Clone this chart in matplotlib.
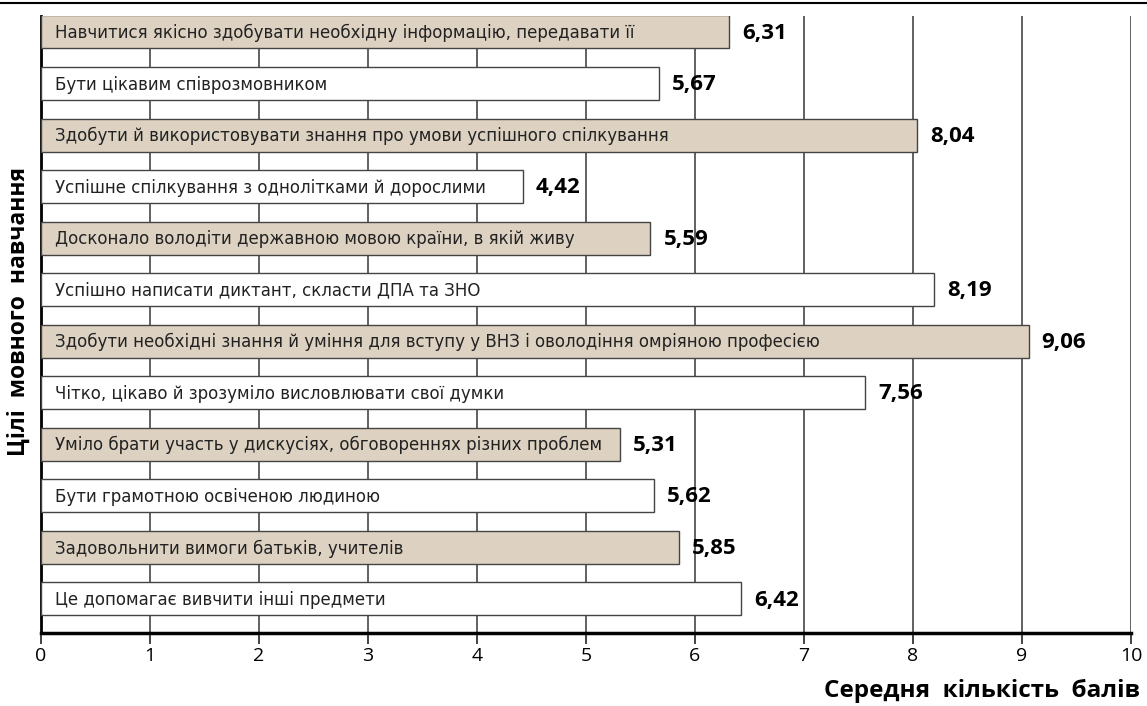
import numpy as np
import matplotlib.pyplot as plt
from matplotlib.lines import Line2D

# Дані
goals = [
    "Навчитися якісно здобувати необхідну інформацію, передавати її",
    "Бути цікавим співрозмовником",
    "Здобути й використовувати знання про умови успішного спілкування",
    "Успішне спілкування з однолітками й дорослими",
    "Досконало володіти державною мовою країни, в якій живу",
    "Успішно написати диктант, скласти ДПА та ЗНО",
    "Здобути необхідні знання й уміння для вступу у ВНЗ і оволодіння омріяною професією",
    "Чітко, цікаво й зрозуміло висловлювати свої думки",
    "Уміло брати участь у дискусіях, обговореннях різних проблем",
    "Бути грамотною освіченою людиною",
    "Задовольнити вимоги батьків, учителів",
    "Це допомагає вивчити інші предмети",
]
scores = [6.31, 5.67, 8.04, 4.42, 5.59, 8.19, 9.06, 7.56, 5.31, 5.62, 5.85, 6.42]
score_labels = ["6,31", "5,67", "8,04", "4,42", "5,59", "8,19", "9,06", "7,56", "5,31", "5,62", "5,85", "6,42"]
x_ticks = list(range(0, 11))

tan = "#ddd2c2"

fig = plt.figure(figsize=(11.47, 7.06), dpi=100)
ax = fig.add_axes([41 / 1147, 1 - 633 / 706, 1090 / 1147, 617 / 706])

y = np.arange(len(goals))
colors = [tan if i % 2 == 0 else "white" for i in y]
ax.barh(y, scores, height=0.64, color=colors, edgecolor="#444444", linewidth=1.0, zorder=3)

for i, (s, g, lab) in enumerate(zip(scores, goals, score_labels)):
    ax.text(0.13, i + 0.02, g, va="center", ha="left", fontsize=12,
            family="DejaVu Sans", color="#222222", zorder=4)
    ax.text(s + 0.12, i + 0.02, lab, va="center", ha="left", fontsize=16,
            family="Open Sans", fontweight="bold", color="black", zorder=4)

# Сітка
for xv in x_ticks[1:]:
    ax.axvline(xv, color="#555555", linewidth=1.3, zorder=1)

ax.set_xlim(0, 10)
ax.set_ylim(len(goals) - 1 + 0.66, -0.31)
ax.set_xticks(x_ticks)
ax.set_xticklabels([str(v) for v in x_ticks], family="Open Sans", fontsize=14)
ax.set_yticks([])
ax.tick_params(axis="x", direction="out", length=8, width=1.3, pad=2, color="#333333")

for side in ["top", "right"]:
    ax.spines[side].set_visible(False)
ax.spines["left"].set_linewidth(2)
ax.spines["bottom"].set_linewidth(2.5)

fig.text(19 / 1147, 1 - 312 / 706, "Цілі  мовного  навчання", rotation=90,
         ha="center", va="center", family="Open Sans", fontweight="bold", fontsize=16.5)
fig.text(1140 / 1147, 1 - 691 / 706, "Середня  кількість  балів", ha="right", va="center",
         family="Open Sans", fontweight="bold", fontsize=17.5)

# Лінія зверху
fig.add_artist(Line2D([0, 1], [1 - 3 / 706, 1 - 3 / 706], color="black", linewidth=1.5))

plt.savefig("out.png", dpi=100)
